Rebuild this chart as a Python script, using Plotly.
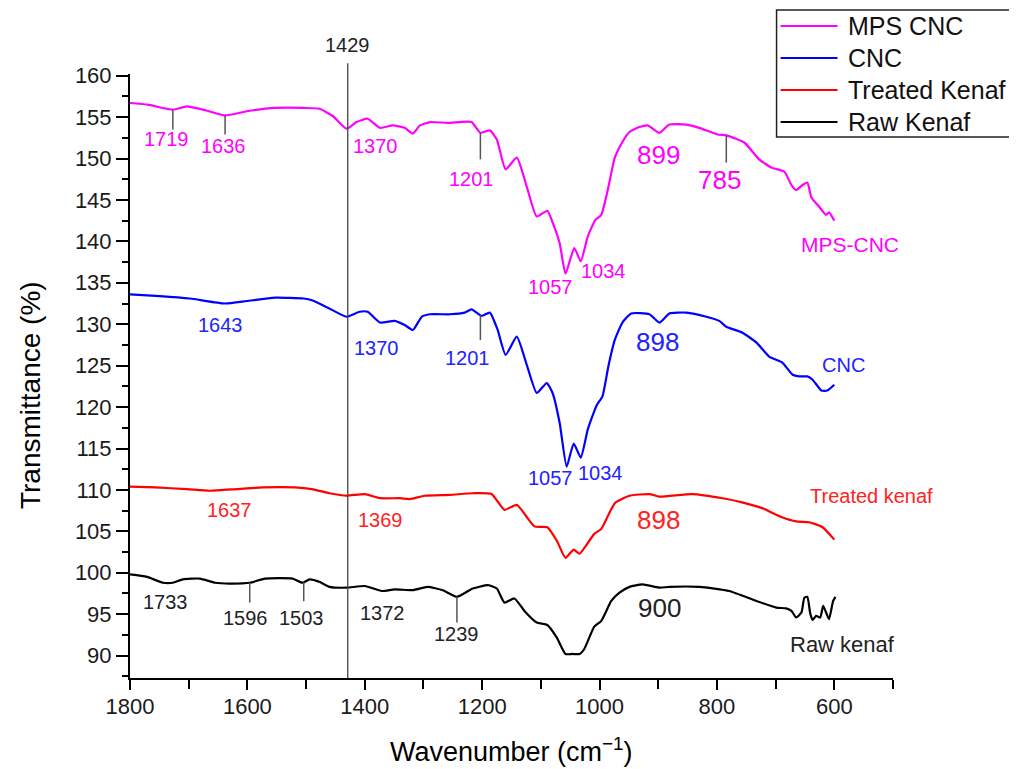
import numpy as np
import plotly.graph_objects as go

# ---------------- data ----------------
mps_wn = [1800,1770,1727,1703,1670,1638,1601,1553,1504,1477,
          1454,1431,1414,1395,1374,1352,1332,1318,1306,1288,
          1257,1238,1218,1203,1187,1175,1160,1141,1124,1107,
          1089,1080,1068,1058,1043,1032,1020,1007,997,986,
          974,961,949,932,918,898,881,852,830,799,
          784,753,728,707,685,673,665,654,646,639,
          626,614,609,600]
mps_t = [156.7,156.5,155.9,156.3,155.8,155.2,155.7,156.1,156.1,156.0,
         155.1,153.6,154.4,154.8,153.7,154.0,153.7,153.0,154.0,154.4,
         154.3,154.4,154.4,153.1,153.4,152.3,148.7,150.1,146.6,143.0,
         143.7,142.3,139.8,136.1,139.2,137.6,140.6,142.6,143.2,146.2,
         150.1,152.0,153.2,153.8,154.0,153.1,154.1,154.1,153.7,152.9,
         152.8,151.9,149.9,148.9,148.4,146.8,146.2,146.8,147.1,145.3,
         144.2,143.2,143.5,142.5]

cnc_wn = [1800,1749,1698,1638,1601,1553,1504,1490,1463,1431,
          1409,1395,1374,1349,1332,1318,1303,1289,1255,1230,
          1218,1201,1187,1174,1160,1141,1124,1107,1090,1080,
          1068,1056,1044,1032,1020,1005,995,985,974,961,
          946,915,898,881,852,818,796,784,757,733,
          711,689,671,660,646,637,622,612,600]
cnc_t = [133.6,133.4,133.1,132.5,132.8,133.2,133.1,132.9,132.0,130.9,
         131.5,131.5,130.2,130.4,129.9,129.3,130.9,131.2,131.2,131.4,
         131.8,131.0,131.4,129.4,126.3,128.5,125.1,121.7,122.9,121.7,
         118.1,112.8,115.6,113.9,117.3,120.2,121.3,124.9,128.1,130.2,
         131.3,131.2,130.2,131.3,131.4,130.9,130.4,129.7,129.0,127.8,
         126.1,125.4,123.9,123.7,123.7,123.3,122.0,122.0,122.7]

tk_wn = [1800,1757,1703,1664,1618,1574,1519,1490,1460,1431,
         1400,1374,1340,1323,1298,1255,1216,1184,1162,1141,
         1111,1089,1073,1058,1044,1034,1009,997,974,949,
         915,898,842,790,757,723,689,665,643,620,
         600]
tk_t = [110.4,110.3,110.1,109.9,110.1,110.3,110.3,110.1,109.6,109.3,
        109.5,109.0,109.0,108.9,109.3,109.4,109.6,109.5,107.6,108.2,
        105.6,105.5,103.9,101.8,102.8,102.3,104.7,105.3,108.4,109.3,
        109.5,109.2,109.5,109.0,108.5,107.8,106.7,106.2,106.1,105.5,
        104.0]

rk_wn = [1800,1771,1744,1727,1710,1681,1655,1630,1596,1570,
         1523,1506,1494,1477,1460,1431,1400,1371,1349,1318,
         1293,1267,1243,1216,1190,1175,1162,1145,1128,1107,
         1089,1073,1058,1046,1034,1026,1009,997,980,966,
         949,927,898,881,830,779,733,699,682,673,
         665,656,651,646,641,637,631,624,619,614,
         609,602,598]
rk_t = [99.8,99.5,98.8,98.8,99.2,99.3,98.8,98.7,98.8,99.3,
        99.3,98.8,99.2,98.9,98.3,98.2,98.4,97.8,98.0,97.9,
        98.3,97.9,97.1,98.1,98.5,98.1,96.4,96.9,95.4,94.0,
        93.7,92.2,90.2,90.2,90.2,90.8,93.5,94.2,96.6,97.6,
        98.3,98.6,98.2,98.3,98.3,97.8,96.6,95.8,95.7,95.4,
        94.6,95.2,97.0,97.1,95.1,94.3,94.8,94.6,96.0,95.2,
        94.4,96.6,97.1]

series_names = ["MPS CNC", "CNC", "Treated Kenaf", "Raw Kenaf"]
series_colors = ["#FF00FF", "#0000FF", "#FF0000", "#000000"]
series_wn = [mps_wn, cnc_wn, tk_wn, rk_wn]
series_t = [mps_t, cnc_t, tk_t, rk_t]

# peak marker ticks: (series index, wavenumber, drop length in %)
peak_ticks = [(0, 1727, 2.4), (0, 1638, 2.3), (0, 1203, 3.2), (0, 784, 3.3),
              (1, 1203, 3.0),
              (3, 1596, 2.4), (3, 1504, 2.3), (3, 1243, 3.1)]

# peak labels: (text, wavenumber, transmittance, series index, font size)
peak_labels = [
    ("1719", 1737, 152.3, 0, 20), ("1636", 1640, 151.5, 0, 20),
    ("1370", 1381, 151.5, 0, 20), ("1201", 1218, 147.5, 0, 20),
    ("1057", 1083, 134.5, 0, 20), ("1034", 993, 136.4, 0, 20),
    ("899", 900, 150.4, 0, 26), ("785", 796, 147.4, 0, 26),
    ("MPS-CNC", 573, 139.6, 0, 21),
    ("1643", 1645, 129.9, 1, 20), ("1370", 1380, 127.1, 1, 20),
    ("1201", 1225, 125.9, 1, 20), ("1057", 1083, 111.5, 1, 20),
    ("1034", 998, 112.1, 1, 20), ("898", 901, 127.8, 1, 26),
    ("CNC", 585, 125.1, 1, 20),
    ("1637", 1630, 107.6, 2, 20), ("1369", 1373, 106.4, 2, 20),
    ("898", 900, 106.4, 2, 26), ("Treated kenaf", 537, 109.3, 2, 20),
    ("1733", 1740, 96.5, 3, 20), ("1596", 1603, 94.6, 3, 20),
    ("1503", 1507, 94.6, 3, 20), ("1372", 1369, 95.2, 3, 20),
    ("1239", 1243, 92.6, 3, 20), ("900", 898, 95.8, 3, 26),
    ("Raw kenaf", 586, 91.3, 3, 22),
]

ref_line_wn = 1429

x_range = [1800, 500]
y_range = [87.3, 160.2]

FONT = "Arial, 'Liberation Sans', sans-serif"

fig = go.Figure()
for name, color, wn, t in zip(series_names, series_colors, series_wn, series_t):
    fig.add_trace(go.Scatter(x=wn, y=t, mode="lines", name=name, showlegend=False,
                             line=dict(color=color, width=2.2, shape="spline",
                                       smoothing=0.5)))

# vertical reference line (extends a little above the plot area)
fig.add_shape(type="line", xref="x", yref="paper", x0=ref_line_wn, x1=ref_line_wn,
              y0=0, y1=1.018, line=dict(color="#444444", width=1.3))
fig.add_annotation(x=ref_line_wn, y=1.048, xref="x", yref="paper", text=str(ref_line_wn),
                   showarrow=False, xanchor="center", yanchor="middle",
                   font=dict(family=FONT, size=20, color="#222222"))

# peak tick marks, starting on the curve
for si, w, L in peak_ticks:
    wn = np.array(series_wn[si], dtype=float)
    t = np.array(series_t[si], dtype=float)
    y0 = float(np.interp(w, wn[::-1], t[::-1]))
    fig.add_shape(type="line", xref="x", yref="y", x0=w, x1=w, y0=y0, y1=y0 - L,
                  line=dict(color="#555555", width=1.5))

label_colors = ["#FF00FF", "#2222FF", "#FF2222", "#222222"]
for text, w, y, si, size in peak_labels:
    fig.add_annotation(x=w, y=y, xref="x", yref="y", text=text, showarrow=False,
                       xanchor="center", yanchor="middle",
                       font=dict(family=FONT, size=size, color=label_colors[si]))

# axis titles
fig.add_annotation(x=0.5003, y=-0.1185, xref="paper", yref="paper",
                   text="Wavenumber (cm<sup>\u22121</sup>)", showarrow=False,
                   xanchor="center", yanchor="middle",
                   font=dict(family=FONT, size=27, color="#000000"))
fig.add_annotation(x=-0.131, y=0.4685, xref="paper", yref="paper",
                   text="Transmittance (%)", textangle=-90, showarrow=False,
                   xanchor="center", yanchor="middle",
                   font=dict(family=FONT, size=28, color="#000000"))

# custom legend box (paper coordinates relative to the plot area)
leg_x0, leg_x1, leg_y0, leg_y1 = 0.8474, 1.1552, 0.8957, 1.1060
fig.add_shape(type="rect", xref="paper", yref="paper", x0=leg_x0, x1=leg_x1,
              y0=leg_y0, y1=leg_y1, line=dict(color="#222222", width=1.5),
              fillcolor="white", layer="above")
leg_rows = [1.0795, 1.0265, 0.9735, 0.9205]
for name, color, yy in zip(series_names, series_colors, leg_rows):
    fig.add_shape(type="line", xref="paper", yref="paper", x0=0.8527, x1=0.9273,
                  y0=yy, y1=yy, line=dict(color=color, width=2.2), layer="above")
    fig.add_annotation(x=0.9378, y=yy, xref="paper", yref="paper", text=name,
                       showarrow=False, xanchor="left", yanchor="middle",
                       font=dict(family=FONT, size=25, color="#111111"))

fig.update_xaxes(range=x_range, showgrid=False, zeroline=False,
                 showline=True, linecolor="black", linewidth=2,
                 ticks="outside", ticklen=10, tickwidth=2, tickcolor="black",
                 tick0=0, dtick=200, ticklabelstandoff=-2,
                 tickfont=dict(family=FONT, size=22, color="#1a1a1a"),
                 minor=dict(dtick=100, ticks="outside", ticklen=9, tickwidth=2,
                            tickcolor="black"))
fig.update_yaxes(range=y_range, showgrid=False, zeroline=False,
                 showline=True, linecolor="black", linewidth=2,
                 ticks="outside", ticklen=12, tickwidth=2, tickcolor="black",
                 tick0=0, dtick=5,
                 tickfont=dict(family=FONT, size=22, color="#1a1a1a"),
                 minor=dict(dtick=2.5, ticks="outside", ticklen=6, tickwidth=2,
                            tickcolor="black"))

# the page body has an 8 px margin, so the figure is offset by 8 px
fig.update_layout(
    width=1009, height=761, autosize=False,
    margin=dict(l=122, r=123.5, t=66, b=91),
    plot_bgcolor="white", paper_bgcolor="white",
    font=dict(family=FONT),
    showlegend=False,
)

fig.write_html("out.html")
